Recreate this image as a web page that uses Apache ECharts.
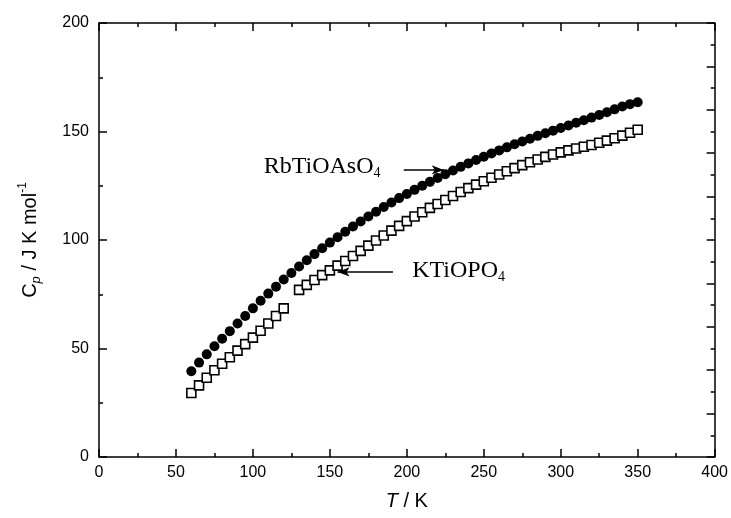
<!DOCTYPE html>
<html>
<head>
<meta charset="utf-8">
<script src="https://cdn.jsdelivr.net/npm/echarts@6.0.0/dist/echarts.min.js"></script>
<style>
  html, body { margin: 0; padding: 0; background: #fff; }
  #chart { width: 731px; height: 518px; }
</style>
</head>
<body>
<div id="chart"></div>
<script>
// RbTiOAsO4 (filled circles)
const tempRb = [60, 65, 70, 75, 80, 85, 90, 95, 100, 105, 110, 115, 120, 125, 130, 135, 140, 145, 150, 155,
  160, 165, 170, 175, 180, 185, 190, 195, 200, 205, 210, 215, 220, 225, 230, 235, 240, 245, 250, 255,
  260, 265, 270, 275, 280, 285, 290, 295, 300, 305, 310, 315, 320, 325, 330, 335, 340, 345, 350];
const cpRb = [39.5, 43.5, 47.3, 51.0, 54.5, 58.0, 61.5, 65.0, 68.5, 72.0, 75.3, 78.5, 81.8, 84.8, 87.8, 90.7, 93.5, 96.2, 98.8, 101.3,
  103.8, 106.2, 108.5, 110.8, 113.0, 115.2, 117.3, 119.3, 121.2, 123.1, 125.0, 126.8, 128.6, 130.3, 132.0, 133.7, 135.3, 136.9, 138.4, 139.9,
  141.3, 142.7, 144.1, 145.4, 146.7, 148.0, 149.2, 150.4, 151.6, 152.8, 154.0, 155.2, 156.4, 157.6, 158.9, 160.2, 161.5, 162.6, 163.5];

// KTiOPO4 (open squares), no point at 125 K
const tempK = [60, 65, 70, 75, 80, 85, 90, 95, 100, 105, 110, 115, 120, 130, 135, 140, 145, 150, 155,
  160, 165, 170, 175, 180, 185, 190, 195, 200, 205, 210, 215, 220, 225, 230, 235, 240, 245, 250, 255,
  260, 265, 270, 275, 280, 285, 290, 295, 300, 305, 310, 315, 320, 325, 330, 335, 340, 345, 350];
const cpK = [29.5, 33.0, 36.5, 40.0, 43.0, 46.0, 49.0, 52.0, 55.0, 58.2, 61.5, 65.0, 68.5, 77.0, 79.3, 81.6, 83.8, 86.0, 88.2,
  90.3, 92.6, 95.0, 97.4, 99.8, 102.1, 104.3, 106.5, 108.7, 110.8, 112.8, 114.8, 116.6, 118.4, 120.3, 122.1, 123.9, 125.5, 127.1, 128.7,
  130.2, 131.7, 133.1, 134.5, 135.8, 137.1, 138.3, 139.4, 140.4, 141.3, 142.2, 143.0, 143.8, 144.8, 145.8, 146.9, 148.1, 149.4, 150.8];

// annotation arrows: [from, to] in data units
const arrowRb = [[198, 132.3], [224, 132.3]];
const arrowK = [[191, 85.3], [155, 85.3]];

const chart = echarts.init(document.getElementById('chart'));

const axisLine = { onZero: false, lineStyle: { color: '#000', width: 1.5 } };
const tickStyle = { lineStyle: { color: '#000', width: 1.5 } };
const sansFont = 'Liberation Sans';
const serifFont = 'Liberation Serif';

const option = {
  backgroundColor: '#fff',
  animation: false,
  grid: { left: 99, right: 15, top: 23, bottom: 61 },
  xAxis: [
    {
      type: 'value', min: 0, max: 400, interval: 50, position: 'bottom',
      axisLine: axisLine,
      axisTick: { inside: true, length: 8, ...tickStyle },
      minorTick: { show: true, splitNumber: 2, length: 4, ...tickStyle },
      splitLine: { show: false },
      axisLabel: { color: '#000', fontFamily: sansFont, fontSize: 16, margin: 8 },
      name: '{i|T}{n| / K}',
      nameLocation: 'middle',
      nameGap: 34,
      nameTextStyle: {
        rich: {
          i: { fontFamily: sansFont, fontSize: 20, fontStyle: 'italic', color: '#000' },
          n: { fontFamily: sansFont, fontSize: 20, color: '#000' }
        }
      }
    },
    {
      type: 'value', min: 0, max: 400, interval: 50, position: 'top',
      axisLine: axisLine,
      axisTick: { inside: true, length: 8, ...tickStyle },
      minorTick: { show: true, splitNumber: 2, length: 4, ...tickStyle },
      splitLine: { show: false },
      axisLabel: { show: false }
    }
  ],
  yAxis: [
    {
      type: 'value', min: 0, max: 200, interval: 50, position: 'left',
      axisLine: axisLine,
      axisTick: { inside: true, length: 8, ...tickStyle },
      minorTick: { show: true, splitNumber: 2, length: 4, ...tickStyle },
      splitLine: { show: false },
      axisLabel: { color: '#000', fontFamily: sansFont, fontSize: 16, margin: 10 },
      name: '{n|C}{s|p}{n| / J K mol}{u|-1}',
      nameLocation: 'middle',
      nameRotate: 90,
      nameGap: 56,
      nameTextStyle: {
        rich: {
          n: { fontFamily: sansFont, fontSize: 20, color: '#000', lineHeight: 26 },
          s: { fontFamily: sansFont, fontSize: 13, fontStyle: 'italic', color: '#000', verticalAlign: 'bottom', lineHeight: 13 },
          u: { fontFamily: sansFont, fontSize: 12, color: '#000', verticalAlign: 'top', lineHeight: 12 }
        }
      }
    },
    {
      type: 'value', min: 0, max: 200, interval: 20, position: 'right',
      axisLine: axisLine,
      axisTick: { inside: true, length: 8, ...tickStyle },
      minorTick: { show: true, splitNumber: 2, length: 4, ...tickStyle },
      splitLine: { show: false },
      axisLabel: { show: false }
    }
  ],
  series: [
    {
      name: 'KTiOPO4',
      type: 'scatter',
      symbol: 'rect',
      symbolSize: 9,
      itemStyle: { color: '#fff', borderColor: '#000', borderWidth: 1.6, opacity: 1 },
      data: tempK.map((t, i) => [t, cpK[i]]),
      markLine: {
        silent: true,
        symbol: ['none', 'arrow'],
        symbolSize: [7, 12],
        label: { show: false },
        lineStyle: { color: '#000', width: 1.5, type: 'solid' },
        data: [[{ coord: arrowK[0] }, { coord: arrowK[1] }]]
      }
    },
    {
      name: 'RbTiOAsO4',
      type: 'scatter',
      symbol: 'circle',
      symbolSize: 10,
      itemStyle: { color: '#000', opacity: 1 },
      data: tempRb.map((t, i) => [t, cpRb[i]]),
      markLine: {
        silent: true,
        symbol: ['none', 'arrow'],
        symbolSize: [7, 12],
        label: { show: false },
        lineStyle: { color: '#000', width: 1.5, type: 'solid' },
        data: [[{ coord: arrowRb[0] }, { coord: arrowRb[1] }]]
      }
    }
  ]
};

chart.setOption(option);

// text labels placed in data units
const labelRich = {
  a: { fontFamily: serifFont, fontSize: 24, color: '#000', lineHeight: 28 },
  s: { fontFamily: serifFont, fontSize: 14, color: '#000', verticalAlign: 'bottom', lineHeight: 14 }
};
const pRb = chart.convertToPixel({ xAxisIndex: 0, yAxisIndex: 0 }, [107, 134]);
const pK = chart.convertToPixel({ xAxisIndex: 0, yAxisIndex: 0 }, [203.5, 86]);
chart.setOption({
  graphic: [
    { type: 'text', x: pRb[0], y: pRb[1], style: { text: '{a|RbTiOAsO}{s|4}', rich: labelRich, align: 'left', verticalAlign: 'middle' } },
    { type: 'text', x: pK[0], y: pK[1], style: { text: '{a|KTiOPO}{s|4}', rich: labelRich, align: 'left', verticalAlign: 'middle' } }
  ]
});
</script>
</body>
</html>
